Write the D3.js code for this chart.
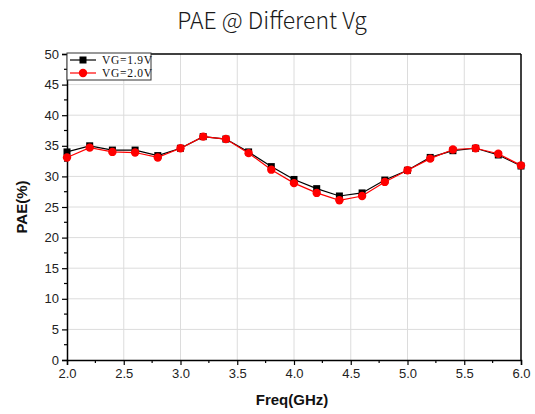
<!DOCTYPE html>
<html><head><meta charset="utf-8">
<script src="https://cdn.jsdelivr.net/npm/d3@7"></script>
<style>body{margin:0;background:#fff}svg{display:block}</style>
</head><body>
<svg id="c" width="535" height="414"></svg>
<script>
const freq = [2.0,2.2,2.4,2.6,2.8,3.0,3.2,3.4,3.6,3.8,4.0,4.2,4.4,4.6,4.8,5.0,5.2,5.4,5.6,5.8,6.0];
const vg19 = [34.0,35.0,34.3,34.3,33.4,34.6,36.5,36.1,34.0,31.6,29.5,28.0,26.8,27.3,29.4,31.0,33.1,34.2,34.6,33.5,31.7];
const vg20 = [33.1,34.7,34.0,33.9,33.1,34.6,36.5,36.1,33.8,31.1,28.9,27.3,26.1,26.8,29.1,31.0,32.9,34.4,34.6,33.7,31.8];
const xTicks = [2.0,2.5,3.0,3.5,4.0,4.5,5.0,5.5,6.0];
const yTicks = [0,5,10,15,20,25,30,35,40,45,50];
const seriesNames = ["VG=1.9V","VG=2.0V"];

const svg = d3.select("#c");
const L=67,R=521,T=54,B=360;
const x = d3.scaleLinear().domain([2,6]).range([L,R]);
const y = d3.scaleLinear().domain([0,50]).range([B,T]);

// grid
svg.append("g").selectAll("line").data(xTicks.slice(1,-1)).join("line")
  .attr("x1",d=>x(d)).attr("x2",d=>x(d)).attr("y1",T).attr("y2",B)
  .attr("stroke","#dcdcdc").attr("stroke-width",1);
svg.append("g").selectAll("line").data(yTicks.slice(1,-1)).join("line")
  .attr("x1",L).attr("x2",R).attr("y1",d=>y(d)).attr("y2",d=>y(d))
  .attr("stroke","#dcdcdc").attr("stroke-width",1);

// axes
const tickFont = "Liberation Sans, Arial, sans-serif";
const xa = svg.append("g").attr("transform",`translate(0,${B})`)
  .call(d3.axisBottom(x).tickValues(xTicks).tickFormat(d3.format(".1f")).tickSize(5).tickPadding(4));
const ya = svg.append("g").attr("transform",`translate(${L},0)`)
  .call(d3.axisLeft(y).tickValues(yTicks).tickFormat(d3.format("d")).tickSize(5).tickPadding(3));
[xa,ya].forEach(g=>{
  g.select(".domain").attr("stroke","#000").attr("stroke-width",1.5);
  g.selectAll(".tick line").attr("stroke","#000").attr("stroke-width",1.2);
  g.selectAll("text").attr("font-family",tickFont).attr("font-size",13).attr("fill","#222");
});
// minor ticks
const xMinor = d3.range(2.25,6,0.5);
svg.append("g").selectAll("line").data(xMinor).join("line")
  .attr("x1",d=>x(d)).attr("x2",d=>x(d)).attr("y1",B).attr("y2",B+3)
  .attr("stroke","#000").attr("stroke-width",1.2);
const yMinor = d3.range(2.5,50,5);
svg.append("g").selectAll("line").data(yMinor).join("line")
  .attr("x1",L-3).attr("x2",L).attr("y1",d=>y(d)).attr("y2",d=>y(d))
  .attr("stroke","#000").attr("stroke-width",1.2);
// frame top/right
svg.append("line").attr("x1",L).attr("x2",R).attr("y1",T).attr("y2",T).attr("stroke","#000").attr("stroke-width",1.5);
svg.append("line").attr("x1",R).attr("x2",R).attr("y1",T).attr("y2",B).attr("stroke","#000").attr("stroke-width",1.5);

// lines
const line = d3.line().x((d,i)=>x(freq[i])).y(d=>y(d));
svg.append("path").datum(vg19).attr("d",line).attr("fill","none").attr("stroke","#000").attr("stroke-width",1.2);
svg.append("path").datum(vg20).attr("d",line).attr("fill","none").attr("stroke","#ff0000").attr("stroke-width",1.2);
svg.append("g").selectAll("rect").data(vg19).join("rect")
  .attr("x",(d,i)=>x(freq[i])-3.5).attr("y",d=>y(d)-3.5).attr("width",7).attr("height",7).attr("fill","#000");
svg.append("g").selectAll("circle").data(vg20).join("circle")
  .attr("cx",(d,i)=>x(freq[i])).attr("cy",d=>y(d)).attr("r",4.2).attr("fill","#ff0000");

// legend
const lg = svg.append("g");
lg.append("rect").attr("x",67).attr("y",53).attr("width",84).attr("height",27)
  .attr("fill","#fff").attr("stroke","#333").attr("stroke-width",1);
const colors=["#000","#ff0000"];
seriesNames.forEach((n,i)=>{
  const yy = 60+i*13;
  lg.append("line").attr("x1",70).attr("x2",96).attr("y1",yy).attr("y2",yy).attr("stroke",colors[i]).attr("stroke-width",1.2);
  if(i===0) lg.append("rect").attr("x",79.5).attr("y",yy-3.5).attr("width",7).attr("height",7).attr("fill","#000");
  else lg.append("circle").attr("cx",83).attr("cy",yy).attr("r",4.2).attr("fill","#ff0000");
  lg.append("text").attr("x",102).attr("y",yy+4).text(n)
    .attr("font-family","Liberation Serif, serif").attr("font-size",11.5).attr("letter-spacing",0.7).attr("fill","#111");
});

// titles
svg.append("text").attr("x",272).attr("y",29).attr("text-anchor","middle")
  .attr("font-family","Noto Sans CJK SC, Noto Sans, sans-serif").attr("font-weight",300).attr("font-size",23).attr("fill","#1a1a1a")
  .text("PAE @ Different Vg");
svg.append("text").attr("x",292).attr("y",405).attr("text-anchor","middle")
  .attr("font-family",tickFont).attr("font-weight","bold").attr("font-size",15).attr("fill","#111")
  .text("Freq(GHz)");
svg.append("text").attr("transform","translate(27,207) rotate(-90)").attr("text-anchor","middle")
  .attr("font-family",tickFont).attr("font-weight","bold").attr("font-size",15).attr("fill","#111")
  .text("PAE(%)");
</script>
</body></html>
